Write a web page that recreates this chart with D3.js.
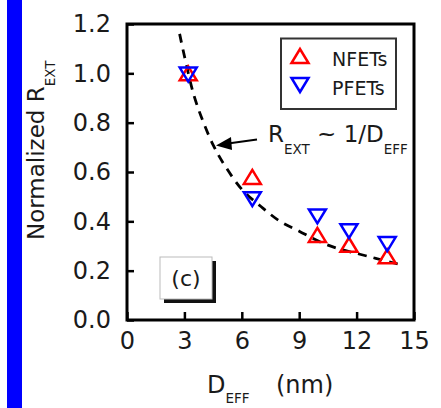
<!DOCTYPE html>
<html><head><meta charset="utf-8">
<script src="https://cdn.jsdelivr.net/npm/d3@7"></script>
<style>
html,body{margin:0;padding:0;background:#fff;}
svg{display:block;}
text{font-family:"DejaVu Sans",Verdana,sans-serif;fill:#1a1a1a;}
</style></head>
<body>
<svg id="chart" width="441" height="408"></svg>
<script>
// ---- data ----
const xTicks = [0, 3, 6, 9, 12, 15];
const yTicks = [0.0, 0.2, 0.4, 0.6, 0.8, 1.0, 1.2];
const nfetX = [3.2, 6.55, 9.95, 11.6, 13.6];
const nfetY = [1.0, 0.58, 0.345, 0.305, 0.258];
const pfetX = [3.2, 6.55, 9.95, 11.6, 13.6];
const pfetY = [0.995, 0.49, 0.42, 0.36, 0.308];
const fitX = [2.75, 3, 3.5, 4, 4.5, 5, 6, 7, 8, 9, 10, 11, 12, 13, 14, 14.5];
const fitY = [1.16, 1.07, 0.91, 0.80, 0.71, 0.64, 0.53, 0.46, 0.40, 0.36, 0.32, 0.29, 0.27, 0.25, 0.23, 0.22];

const svg = d3.select("#chart");
const L = 127, R = 414, T = 24, B = 320;
const x = d3.scaleLinear().domain([0, 15]).range([L, R]);
const y = d3.scaleLinear().domain([0, 1.2]).range([B, T]);

// blue side bar
svg.append("rect").attr("x", 7).attr("y", 0).attr("width", 15).attr("height", 408).attr("fill", "#0000ff");

// axes (ticks inward)
const yAxis = d3.axisLeft(y).tickValues(yTicks).tickFormat(d3.format(".1f")).tickSizeInner(-7).tickSizeOuter(0).tickPadding(16);
const gy = svg.append("g").attr("transform", `translate(${L},0)`).call(yAxis);
const xAxis = d3.axisBottom(x).tickValues(xTicks).tickFormat(d3.format("d")).tickSizeInner(-8).tickSizeOuter(0).tickPadding(12);
const gx = svg.append("g").attr("transform", `translate(0,${B})`).call(xAxis);
[gx, gy].forEach(g => {
  g.select(".domain").remove();
  g.selectAll(".tick line").attr("stroke", "#000").attr("stroke-width", 2.5);
  g.selectAll(".tick text").attr("fill", "#1a1a1a").style("font-size", "24px").style("font-family", "'DejaVu Sans',Verdana,sans-serif");
});
gx.selectAll(".tick text").attr("dy", "0.71em");

// frame
svg.append("rect").attr("x", L).attr("y", T).attr("width", R - L).attr("height", B - T)
  .attr("fill", "none").attr("stroke", "#000").attr("stroke-width", 3);

// fit curve
const line = d3.line().x((d, i) => x(fitX[i])).y((d, i) => y(fitY[i])).curve(d3.curveCatmullRom);
svg.append("path").attr("d", line(fitX)).attr("fill", "none").attr("stroke", "#000")
  .attr("stroke-width", 2.8).attr("stroke-dasharray", "9,7");

// triangle markers
function tri(cx, cy, up) {
  const w = 8.5, h = 7;
  const s = up ? 1 : -1;
  return `M${cx - w},${cy + s * h}L${cx + w},${cy + s * h}L${cx},${cy - s * h}Z`;
}
svg.append("g").selectAll("path").data(nfetX).join("path")
  .attr("d", (d, i) => tri(x(d), y(nfetY[i]), true))
  .attr("fill", "none").attr("stroke", "#ff0000").attr("stroke-width", 2.5).attr("stroke-linejoin", "miter");
svg.append("g").selectAll("path").data(pfetX).join("path")
  .attr("d", (d, i) => tri(x(d), y(pfetY[i]), false))
  .attr("fill", "none").attr("stroke", "#0000ff").attr("stroke-width", 2.5).attr("stroke-linejoin", "miter");

// legend
svg.append("rect").attr("x", 281).attr("y", 38.5).attr("width", 115).attr("height", 70.5)
  .attr("fill", "#fff").attr("stroke", "#333").attr("stroke-width", 2);
svg.append("path").attr("d", tri(300, 56, true)).attr("fill", "none").attr("stroke", "#ff0000").attr("stroke-width", 2.5);
svg.append("path").attr("d", tri(300, 85, false)).attr("fill", "none").attr("stroke", "#0000ff").attr("stroke-width", 2.5);
svg.append("text").attr("x", 332).attr("y", 66).style("font-size", "19px").text("NFETs");
svg.append("text").attr("x", 332).attr("y", 95).style("font-size", "19px").text("PFETs");

// annotation
const ann = svg.append("text").attr("x", 268).attr("y", 142).style("font-size", "23px");
ann.append("tspan").text("R");
ann.append("tspan").attr("dy", 12).style("font-size", "13.5px").text("EXT");
ann.append("tspan").attr("dy", -12).text(" ~ 1/D");
ann.append("tspan").attr("dy", 12).style("font-size", "13.5px").text("EFF");
// arrow
svg.append("line").attr("x1", 257).attr("y1", 139.5).attr("x2", 228).attr("y2", 143.5)
  .attr("stroke", "#000").attr("stroke-width", 2);
svg.append("path").attr("d", "M216,145.5L231,137L232,150Z").attr("fill", "#000");

// (c) label box
svg.append("rect").attr("x", 164).attr("y", 261).attr("width", 52).attr("height", 42).attr("fill", "#111");
svg.append("rect").attr("x", 160).attr("y", 257).attr("width", 52).attr("height", 42)
  .attr("fill", "#fff").attr("stroke", "#bbb").attr("stroke-width", 1);
svg.append("text").attr("x", 186).attr("y", 286).attr("text-anchor", "middle").style("font-size", "22px").text("(c)");

// axis titles
const yl = svg.append("text").attr("transform", "translate(44,240) rotate(-90)").style("font-size", "23px");
yl.append("tspan").text("Normalized R");
yl.append("tspan").attr("dy", 11).style("font-size", "13.5px").text("EXT");

const xl = svg.append("text").attr("x", 207).attr("y", 393).style("font-size", "24px");
xl.append("tspan").text("D");
xl.append("tspan").attr("dy", 10).style("font-size", "13.5px").text("EFF");
xl.append("tspan").attr("dy", -10).attr("x", 276).text("(nm)");
</script>
</body></html>
